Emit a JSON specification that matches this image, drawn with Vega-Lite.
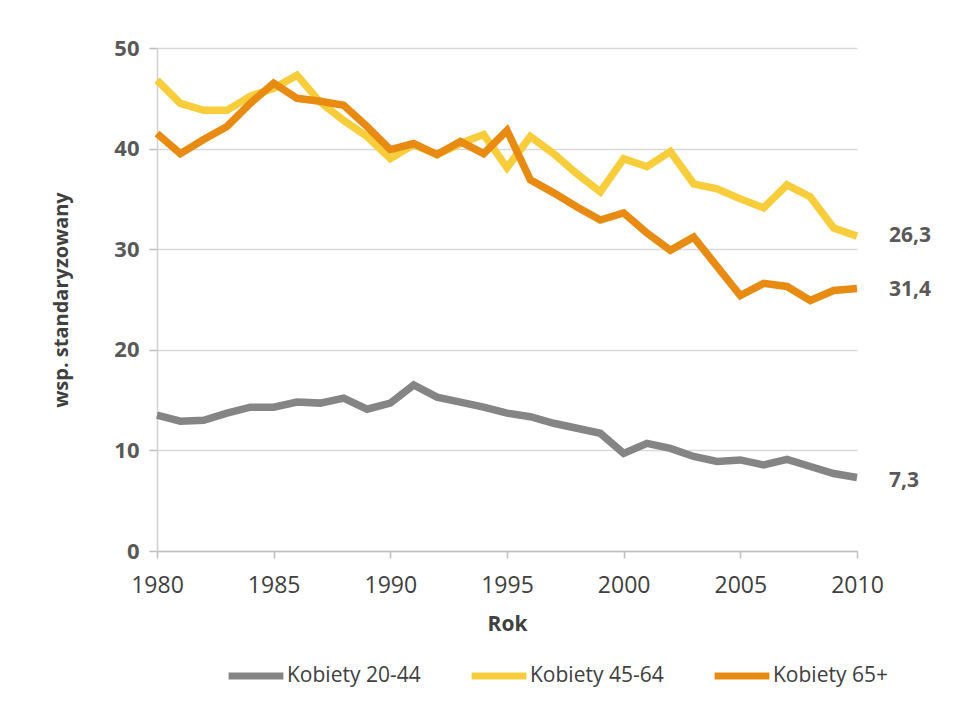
{
  "$schema": "https://vega.github.io/schema/vega-lite/v6.json",
  "width": 700,
  "height": 503,
  "autosize": "none",
  "padding": {"left": 157, "top": 48, "right": 118, "bottom": 172},
  "background": "white",
  "config": {
    "font": "Open Sans",
    "view": {"stroke": null},
    "axis": {"labelFont": "Open Sans", "titleFont": "Open Sans"}
  },
  "datasets": {
    "series": [
      {"Rok": 1980, "Kobiety 20-44": 13.5, "Kobiety 45-64": 46.8, "Kobiety 65+": 41.5},
      {"Rok": 1981, "Kobiety 20-44": 12.9, "Kobiety 45-64": 44.5, "Kobiety 65+": 39.5},
      {"Rok": 1982, "Kobiety 20-44": 13.0, "Kobiety 45-64": 43.8, "Kobiety 65+": 40.9},
      {"Rok": 1983, "Kobiety 20-44": 13.7, "Kobiety 45-64": 43.8, "Kobiety 65+": 42.2},
      {"Rok": 1984, "Kobiety 20-44": 14.3, "Kobiety 45-64": 45.2, "Kobiety 65+": 44.5},
      {"Rok": 1985, "Kobiety 20-44": 14.3, "Kobiety 45-64": 46.0, "Kobiety 65+": 46.5},
      {"Rok": 1986, "Kobiety 20-44": 14.8, "Kobiety 45-64": 47.3, "Kobiety 65+": 45.0},
      {"Rok": 1987, "Kobiety 20-44": 14.7, "Kobiety 45-64": 44.6, "Kobiety 65+": 44.7},
      {"Rok": 1988, "Kobiety 20-44": 15.2, "Kobiety 45-64": 42.8, "Kobiety 65+": 44.3},
      {"Rok": 1989, "Kobiety 20-44": 14.1, "Kobiety 45-64": 41.2, "Kobiety 65+": 42.2},
      {"Rok": 1990, "Kobiety 20-44": 14.7, "Kobiety 45-64": 39.0, "Kobiety 65+": 39.9},
      {"Rok": 1991, "Kobiety 20-44": 16.5, "Kobiety 45-64": 40.4, "Kobiety 65+": 40.5},
      {"Rok": 1992, "Kobiety 20-44": 15.3, "Kobiety 45-64": 39.4, "Kobiety 65+": 39.4},
      {"Rok": 1993, "Kobiety 20-44": 14.8, "Kobiety 45-64": 40.5, "Kobiety 65+": 40.7},
      {"Rok": 1994, "Kobiety 20-44": 14.3, "Kobiety 45-64": 41.4, "Kobiety 65+": 39.5},
      {"Rok": 1995, "Kobiety 20-44": 13.7, "Kobiety 45-64": 38.1, "Kobiety 65+": 41.8},
      {"Rok": 1996, "Kobiety 20-44": 13.35, "Kobiety 45-64": 41.2, "Kobiety 65+": 36.9},
      {"Rok": 1997, "Kobiety 20-44": 12.7, "Kobiety 45-64": 39.5, "Kobiety 65+": 35.6},
      {"Rok": 1998, "Kobiety 20-44": 12.2, "Kobiety 45-64": 37.5, "Kobiety 65+": 34.2},
      {"Rok": 1999, "Kobiety 20-44": 11.7, "Kobiety 45-64": 35.7, "Kobiety 65+": 32.9},
      {"Rok": 2000, "Kobiety 20-44": 9.7, "Kobiety 45-64": 39.0, "Kobiety 65+": 33.6},
      {"Rok": 2001, "Kobiety 20-44": 10.7, "Kobiety 45-64": 38.2, "Kobiety 65+": 31.6},
      {"Rok": 2002, "Kobiety 20-44": 10.2, "Kobiety 45-64": 39.7, "Kobiety 65+": 29.9},
      {"Rok": 2003, "Kobiety 20-44": 9.4, "Kobiety 45-64": 36.5, "Kobiety 65+": 31.2},
      {"Rok": 2004, "Kobiety 20-44": 8.9, "Kobiety 45-64": 36.0, "Kobiety 65+": 28.3},
      {"Rok": 2005, "Kobiety 20-44": 9.05, "Kobiety 45-64": 35.0, "Kobiety 65+": 25.4},
      {"Rok": 2006, "Kobiety 20-44": 8.55, "Kobiety 45-64": 34.1, "Kobiety 65+": 26.6},
      {"Rok": 2007, "Kobiety 20-44": 9.1, "Kobiety 45-64": 36.4, "Kobiety 65+": 26.3},
      {"Rok": 2008, "Kobiety 20-44": 8.4, "Kobiety 45-64": 35.2, "Kobiety 65+": 24.9},
      {"Rok": 2009, "Kobiety 20-44": 7.7, "Kobiety 45-64": 32.1, "Kobiety 65+": 25.9},
      {"Rok": 2010, "Kobiety 20-44": 7.3, "Kobiety 45-64": 31.3, "Kobiety 65+": 26.1}
    ],
    "labels": [
      {"Rok": 2010, "value": 31.3, "label": "26,3"},
      {"Rok": 2010, "value": 25.9, "label": "31,4"},
      {"Rok": 2010, "value": 7.0, "label": "7,3"}
    ]
  },
  "layer": [
    {
      "data": {"name": "series"},
      "transform": [
        {"fold": ["Kobiety 20-44", "Kobiety 45-64", "Kobiety 65+"], "as": ["grupa", "value"]}
      ],
      "mark": {"type": "line", "strokeWidth": 7.5, "strokeJoin": "miter", "strokeCap": "butt"},
      "encoding": {
        "x": {
          "field": "Rok",
          "type": "quantitative",
          "scale": {"domain": [1980, 2010], "nice": false, "zero": false},
          "axis": {
            "title": "Rok",
            "values": [1980, 1985, 1990, 1995, 2000, 2005, 2010],
            "format": "d",
            "grid": false,
            "labelFlush": false,
            "labelOverlap": false,
            "domainColor": "#bfbfbf",
            "domainWidth": 1.5,
            "tickColor": "#bfbfbf",
            "tickWidth": 1.5,
            "tickSize": 7,
            "labelFontSize": 23,
            "labelColor": "#404040",
            "labelPadding": 16,
            "titleFontSize": 21,
            "titleFontWeight": "bold",
            "titleColor": "#404040",
            "titlePadding": 16
          }
        },
        "y": {
          "field": "value",
          "type": "quantitative",
          "scale": {"domain": [0, 50], "nice": false},
          "axis": {
            "title": "wsp. standaryzowany",
            "values": [0, 10, 20, 30, 40, 50],
            "grid": true,
            "gridColor": "#d9d9d9",
            "gridWidth": 1.5,
            "domainColor": "#d0d0d0",
            "domainWidth": 1.5,
            "tickColor": "#bfbfbf",
            "tickWidth": 1.5,
            "tickSize": 8,
            "labelFontSize": 22,
            "labelFontWeight": "bold",
            "labelColor": "#595959",
            "labelPadding": 10,
            "titleFontSize": 20,
            "titleFontWeight": "bold",
            "titleColor": "#404040",
            "titlePadding": 42
          }
        },
        "color": {
          "field": "grupa",
          "type": "nominal",
          "scale": {
            "domain": ["Kobiety 20-44", "Kobiety 45-64", "Kobiety 65+"],
            "range": ["#858585", "#f7cd3b", "#e88b12"]
          },
          "legend": {
            "title": null,
            "orient": "none",
            "direction": "horizontal",
            "legendX": 68,
            "legendY": 597,
            "symbolType": "stroke",
            "symbolSize": 3000,
            "symbolStrokeWidth": 7,
            "labelFontSize": 21,
            "labelColor": "#404040",
            "labelOffset": 0,
            "columnPadding": 36
          }
        }
      }
    },
    {
      "data": {"name": "labels"},
      "mark": {"type": "text", "align": "left", "baseline": "middle", "dx": 32, "fontSize": 21, "fontWeight": "bold", "color": "#595959"},
      "encoding": {
        "x": {"field": "Rok", "type": "quantitative"},
        "y": {"field": "value", "type": "quantitative"},
        "text": {"field": "label", "type": "nominal"}
      }
    }
  ]
}
